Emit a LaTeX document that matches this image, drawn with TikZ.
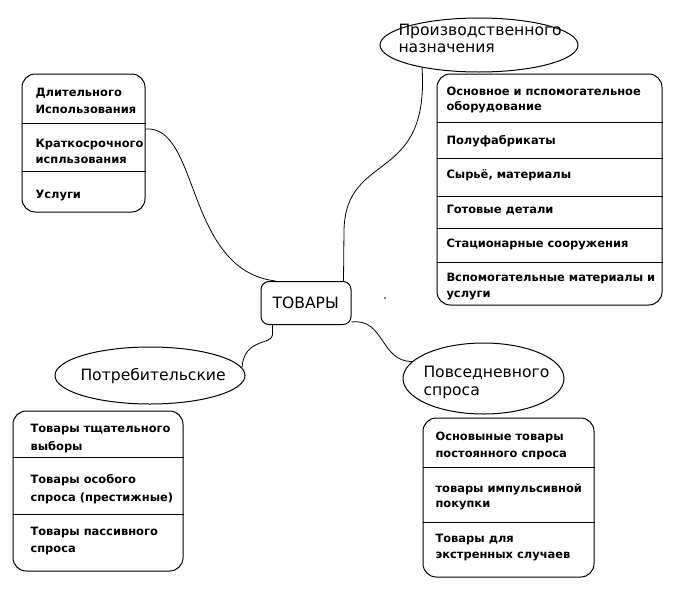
\documentclass[tikz,border=0pt]{standalone}
\usepackage{fontspec}
\setmainfont{DejaVu Sans}
\usetikzlibrary{shapes.geometric,calc}
\begin{document}
\begin{tikzpicture}[x=0.75pt,y=-0.75pt,line width=0.75pt,
  box/.style={draw,rectangle,rounded corners=10pt,inner sep=0},
  ell/.style={draw,ellipse,inner sep=0},
  item/.style={anchor=base west,inner sep=0,font=\bfseries\fontsize{8.6}{10}\selectfont},
  big/.style={anchor=base west,inner sep=0,font=\fontsize{11.7}{13}\selectfont},
  link/.style={draw,line width=0.6pt}]
\useasboundingbox (0,0) rectangle (674,600);

% centre
\node[box,rounded corners=6pt,minimum width={90*0.75pt},minimum height={43*0.75pt}] (tov) at (306,303) {};
\node[big] (tovt) at (272,308) {ТОВАРЫ};
\fill (385,298) circle (0.6pt);

% top-left box
\node[box,minimum width={123*0.75pt},minimum height={138*0.75pt}] (tl) at (83.5,143) {};
\draw (tl.west |- 0,123) -- (tl.east |- 0,123);
\draw (tl.west |- 0,171) -- (tl.east |- 0,171);
\node[item] (tl1) at (35,96) {Длительного};
\node[item] (tl2) at (35,113) {Использования};
\node[item] (tl3) at (35,147) {Краткосрочного};
\node[item] (tl4) at (35,163) {испльзования};
\node[item] (tl5) at (35,198) {Услуги};

% production ellipse and box
\node[ell,minimum width={198*0.75pt},minimum height={54*0.75pt}] (prod) at (479,45) {};
\node[big] (prodt1) at (398,35) {Производственного};
\node[big] (prodt2) at (398,52) {назначения};
\node[box,minimum width={225*0.75pt},minimum height={231*0.75pt}] (pb) at (549.5,189.5) {};
\foreach \yy in {122,158,196,228,262} \draw (pb.west |- 0,\yy) -- (pb.east |- 0,\yy);
\node[item] (pb1) at (446,95) {Основное и пспомогательное};
\node[item] (pb2) at (446,110) {оборудование};
\node[item] (pb3) at (446,144) {Полуфабрикаты};
\node[item] (pb4) at (446,178) {Сырьё, материалы};
\node[item] (pb5) at (446,213) {Готовые детали};
\node[item] (pb6) at (446,247) {Стационарные сооружения};
\node[item] (pb7) at (446,281) {Вспомогательные материалы и};
\node[item] (pb8) at (446,297) {услуги};

% consumer ellipse and box
\node[ell,minimum width={190*0.75pt},minimum height={57*0.75pt}] (potr) at (150,375.5) {};
\node[big] (potrt) at (80,380) {Потребительские};
\node[box,minimum width={170*0.75pt},minimum height={160*0.75pt}] (cb) at (98,491) {};
\draw (cb.west |- 0,457) -- (cb.east |- 0,457);
\draw (cb.west |- 0,514) -- (cb.east |- 0,514);
\node[item] (cb1) at (30,432) {Товары тщательного};
\node[item] (cb2) at (30,450) {выборы};
\node[item] (cb3) at (30,483) {Товары особого};
\node[item] (cb4) at (30,501) {спроса (престижные)};
\node[item] (cb5) at (30,535) {Товары пассивного};
\node[item] (cb6) at (30,552) {спроса};

% everyday ellipse and box
\node[ell,minimum width={161*0.75pt},minimum height={71*0.75pt}] (povs) at (483.5,378.5) {};
\node[big] (povst1) at (423,377) {Повседневного};
\node[big] (povst2) at (423,395) {спроса};
\node[box,minimum width={171*0.75pt},minimum height={159*0.75pt}] (eb) at (508.5,497.5) {};
\draw (eb.west |- 0,467) -- (eb.east |- 0,467);
\draw (eb.west |- 0,522) -- (eb.east |- 0,522);
\node[item] (eb1) at (435,440) {Основыные товары};
\node[item] (eb2) at (435,457) {постоянного спроса};
\node[item] (eb3) at (435,492) {товары импульсивной};
\node[item] (eb4) at (435,507) {покупки};
\node[item] (eb5) at (435,542) {Товары для};
\node[item] (eb6) at (435,558) {экстренных случаев};

% connectors
\coordinate (tlr) at (tl.east |- 0,129);
\coordinate (prodb) at ($(prod.center)+(-57,22)$);
\coordinate (potrr) at ($(potr.center)+(92,-8)$);
\coordinate (povsl) at ($(povs.center)+(-71,-17)$);
\coordinate (tovtl) at ($(tov.north west)+(15,0)$);
\coordinate (tovtr) at ($(tov.north east)+(-8,0)$);
\coordinate (tovbl) at ($(tov.south west)+(12,0)$);
\coordinate (tovbr) at ($(tov.south east)+(0,-3)$);
\draw[link] (tlr) .. controls (200,125) and (185,270) .. (tovtl);
\draw[link] (prodb) .. controls (430,185) and (346,150) .. (344,230) -- (tovtr);
\draw[link] (tovbl) -- ++(0,10) .. controls (272,345) and (244,338) .. (potrr);
\draw[link] (tovbr) .. controls (385,318) and (380,362) .. (povsl);
\end{tikzpicture}
\end{document}
